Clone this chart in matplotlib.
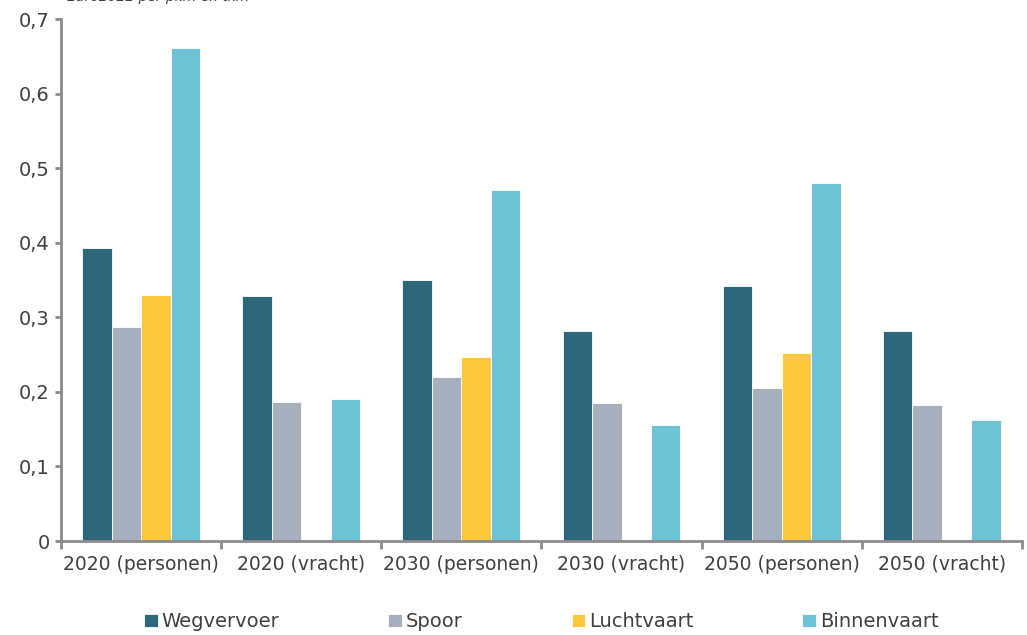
import numpy as np
import matplotlib
matplotlib.use("Agg")
import matplotlib.pyplot as plt

plt.rcParams["font.family"] = ["DejaVu Sans"]

categories = ["2020 (personen)", "2020 (vracht)", "2030 (personen)",
              "2030 (vracht)", "2050 (personen)", "2050 (vracht)"]
series_names = ["Wegvervoer", "Spoor", "Luchtvaart", "Binnenvaart"]
wegvervoer = [0.393, 0.329, 0.350, 0.282, 0.342, 0.282]
spoor = [0.287, 0.186, 0.220, 0.185, 0.205, 0.182]
luchtvaart = [0.330, np.nan, 0.247, np.nan, 0.252, np.nan]
binnenvaart = [0.661, 0.190, 0.471, 0.156, 0.480, 0.162]
colors = ["#2e677c", "#a6b0bd", "#fec73e", "#6dc3d3"]

values = [wegvervoer, spoor, luchtvaart, binnenvaart]
text_color = "#404040"
axis_color = "#8c8c8c"

fig = plt.figure(figsize=(10.27, 6.35), dpi=100)
ax = fig.add_axes([0.0594, 0.148, 0.9356, 0.822])

x = np.arange(len(categories))
w = 0.184
for i, (vals, name, c) in enumerate(zip(values, series_names, colors)):
    ax.bar(x + (i - 1.5) * w, vals, width=w, color=c, label=name,
           edgecolor="white", linewidth=0.6)

ax.set_xlim(-0.5, len(categories) - 0.5)
ax.set_ylim(0, 0.7)
ax.set_yticks(np.arange(0, 0.71, 0.1))
ax.set_yticklabels(["0"] + [f"0,{i}" for i in range(1, 8)])
ax.set_xticks(x)
ax.set_xticklabels(categories)
ax.set_xticks(np.arange(-0.5, len(categories)), minor=True)
ax.tick_params(axis="x", which="major", length=0, pad=10, labelsize=13.5, colors=text_color)
ax.tick_params(axis="x", which="minor", length=6, width=2, color=axis_color)
ax.tick_params(axis="y", length=4, width=2, color=axis_color, labelsize=14,
               labelcolor=text_color, pad=4)

for s in ["top", "right"]:
    ax.spines[s].set_visible(False)
for s in ["left", "bottom"]:
    ax.spines[s].set_color(axis_color)
    ax.spines[s].set_linewidth(2)

fig.text(0.065, 0.993, "Euro2022 per pkm en tkm", fontsize=10, style="italic",
         color=text_color, va="bottom", ha="left")

leg = ax.legend(loc="center", bbox_to_anchor=(0.5, -0.155), ncol=4, frameon=False,
                handlelength=0.7, handleheight=0.7, handletextpad=0.2,
                columnspacing=5.6, fontsize=14)
for t in leg.get_texts():
    t.set_color(text_color)

fig.savefig("out.png", dpi=100)
